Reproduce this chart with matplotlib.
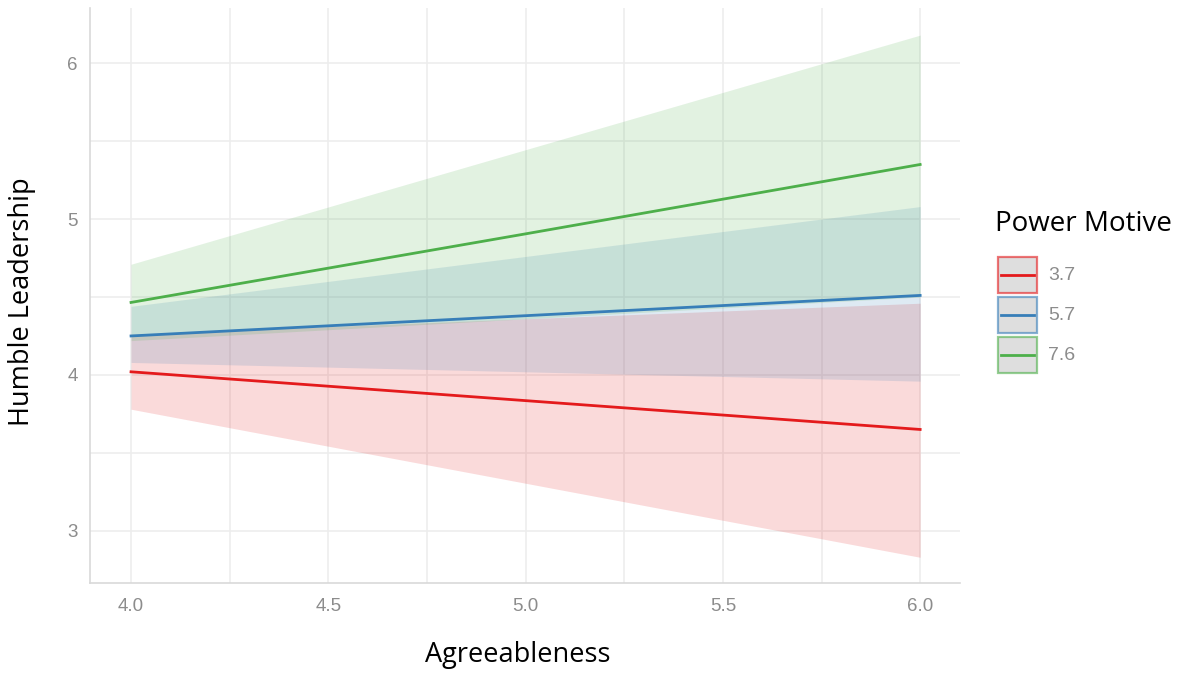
import matplotlib
matplotlib.use("Agg")
import matplotlib.pyplot as plt
from matplotlib.patches import Rectangle
from matplotlib.lines import Line2D
from matplotlib.colors import to_rgba

# Data
agree = [4.0, 5.0, 6.0]
groups = ["3.7", "5.7", "7.6"]
fit = {
    "3.7": [4.02, 3.835, 3.65],
    "5.7": [4.25, 4.38, 4.51],
    "7.6": [4.465, 4.905, 5.35],
}
lower = {
    "3.7": [3.78, 3.305, 2.83],
    "5.7": [4.08, 4.02, 3.96],
    "7.6": [4.22, 4.36, 4.50],
}
upper = {
    "3.7": [4.26, 4.36, 4.46],
    "5.7": [4.44, 4.76, 5.08],
    "7.6": [4.71, 5.445, 6.18],
}
colors = {"3.7": "#E41A1C", "5.7": "#377EB8", "7.6": "#4DAF4A"}
x_ticks = [4.0, 4.5, 5.0, 5.5, 6.0]
y_ticks = [3, 4, 5, 6]

W, H = 1182, 675
fig = plt.figure(figsize=(W/100, H/100), dpi=100)
ax = fig.add_axes([90/W, 1-583/H, (960-90)/W, (583-8)/H])

for g in groups:
    ax.fill_between(agree, lower[g], upper[g], color=colors[g], alpha=0.16, linewidth=0, zorder=2)
for g in groups:
    ax.plot(agree, fit[g], color=colors[g], linewidth=2, zorder=3)

ax.set_xlim(3.896, 6.101)
ax.set_ylim(2.665, 6.354)
ax.set_xticks(x_ticks)
ax.set_xticklabels([f"{v:.1f}" for v in x_ticks])
ax.set_yticks(y_ticks)
ax.set_yticklabels([str(v) for v in y_ticks])
ax.set_xticks([4.25, 4.75, 5.25, 5.75], minor=True)
ax.set_yticks([3.5, 4.5, 5.5], minor=True)
ax.grid(True, which="both", color="#EDEDED", linewidth=1.2, zorder=0)
ax.set_axisbelow(True)
for s in ["top", "right"]:
    ax.spines[s].set_visible(False)
for s in ["left", "bottom"]:
    ax.spines[s].set_color("#D9D9D9")
    ax.spines[s].set_linewidth(1.2)
ax.tick_params(which="both", length=0, labelsize=13.5, labelcolor="#8C8C8C")
ax.tick_params(axis="x", pad=11)
ax.tick_params(axis="y", pad=9)
for lab in ax.get_xticklabels() + ax.get_yticklabels():
    lab.set_family("Liberation Sans")

fig.text(518/W, 1-655/H, "Agreeableness", fontsize=19.5, family="Open Sans",
         ha="center", va="center")
fig.text(22/W, 1-302/H, "Humble Leadership", fontsize=19.5, family="Open Sans",
         ha="center", va="center", rotation=90)

# Legend (drawn manually in figure pixels)
fig.text(995/W, 1-224/H, "Power Motive", fontsize=20, family="Open Sans",
         ha="left", va="center")
box_x, box_w, box_h = 998, 39, 36
tops = [257, 297, 337]
for g, top in zip(groups, tops):
    fig.add_artist(Rectangle((box_x/W, 1-(top+box_h)/H), box_w/W, box_h/H,
                             transform=fig.transFigure, facecolor="#DEDEDE",
                             edgecolor=to_rgba(colors[g], 0.6), linewidth=1.6))
    yc = 1-(top+box_h/2)/H
    fig.add_artist(Line2D([(box_x+3)/W, (box_x+box_w-3)/W], [yc, yc],
                          transform=fig.transFigure, color=colors[g], linewidth=2))
    fig.text(1048/W, yc, g, fontsize=14, family="Liberation Sans",
             color="#8C8C8C", ha="left", va="center")

fig.savefig("out.png", dpi=100)
